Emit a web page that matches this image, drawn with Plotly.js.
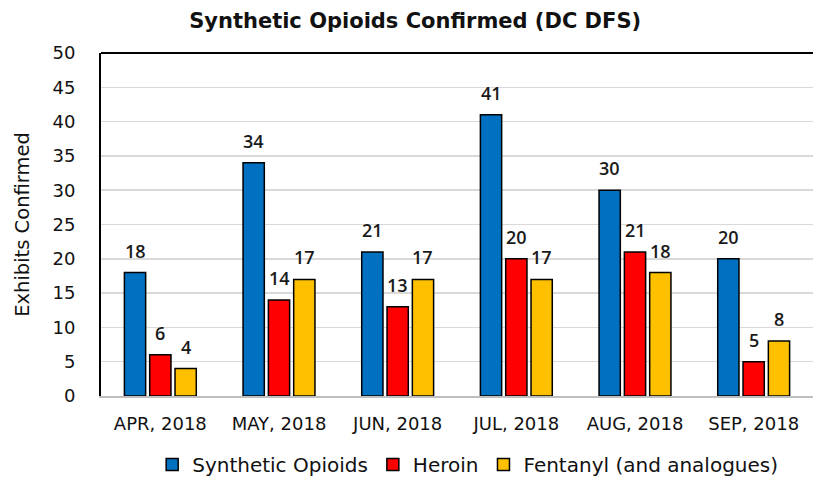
<!DOCTYPE html>
<html><head><meta charset="utf-8">
<script src="https://cdn.plot.ly/plotly-3.0.1.min.js"></script>
<style>html,body{margin:0;padding:0;background:#fff}#chart{width:814px;height:490px}</style>
</head><body><div id="chart"></div>
<script>
const categories = ["APR, 2018","MAY, 2018","JUN, 2018","JUL, 2018","AUG, 2018","SEP, 2018"];
const synthetic = [18,34,21,41,30,20];
const heroin = [6,14,13,20,21,5];
const fentanyl = [4,17,17,17,18,8];
const seriesNames = ["Synthetic Opioids","Heroin","Fentanyl (and analogues)"];
const seriesColors = ["#0070C0","#FF0000","#FFC000"];
const seriesValues = [synthetic, heroin, fentanyl];

const margin = {l:101, r:1, t:53, b:94, autoexpand: false};
const W = 814, bargap = 0.36, bargroupgap = 0.16;
const catW = (W - margin.l - margin.r) / categories.length;
const slot = catW * (1 - bargap) / 3;

const traces = seriesValues.map((vals, i) => ({
  type: 'bar', x: categories, y: vals, name: seriesNames[i],
  marker: {color: seriesColors[i], line: {color: '#000', width: 1.5}},
  hoverinfo: 'none'
}));

const annotations = [];
seriesValues.forEach((vals, i) => {
  vals.forEach((v, j) => {
    annotations.push({x: categories[j], y: v, xref: 'x', yref: 'y', text: String(v),
      showarrow: false, xshift: (i - 1) * slot, yshift: 22, yanchor: 'middle',
      font: {family: 'Open Sans', size: 18, weight: 600, color: '#1a1a1a'}});
  });
});

const layout = {
  width: 814, height: 490, margin: margin,
  paper_bgcolor: '#fff', plot_bgcolor: '#fff',
  title: {text: 'Synthetic Opioids Confirmed (DC DFS)', x: 0.51, xanchor: 'center', y: 0.958, yanchor: 'middle',
    font: {family: 'DejaVu Sans', size: 21, weight: 'bold', color: '#111'}},
  barmode: 'group', bargap: bargap, bargroupgap: bargroupgap,
  xaxis: {type: 'category', showgrid: false, showline: true, linecolor: '#bfbfbf', linewidth: 1.5,
    ticks: 'outside', ticklen: 11, tickcolor: 'rgba(0,0,0,0)',
    tickfont: {family: 'DejaVu Sans', size: 18, color: '#111'}, fixedrange: true},
  yaxis: {range: [0, 50], dtick: 5, showgrid: true, gridcolor: '#d9d9d9', gridwidth: 1.5,
    showline: true, linecolor: '#000', linewidth: 2, mirror: false, zeroline: false,
    ticks: 'outside', ticklen: 20, tickcolor: 'rgba(0,0,0,0)',
    tickfont: {family: 'DejaVu Sans', size: 18, color: '#111'},
    title: {text: 'Exhibits Confirmed', standoff: 18, font: {family: 'DejaVu Sans', size: 19.5, color: '#111'}}},
  shapes: [{type: 'line', xref: 'paper', yref: 'paper', x0: 0, x1: 1, y0: 1, y1: 1, line: {color: '#000', width: 2}}],
  legend: {orientation: 'h', x: 0.515, xanchor: 'center', xref: 'paper', y: -0.2, yanchor: 'middle',
    font: {family: 'DejaVu Sans', size: 20, color: '#111'}, itemwidth: 30, traceorder: 'normal'},
  annotations: annotations,
  showlegend: true
};
Plotly.newPlot('chart', traces, layout, {displayModeBar: false, staticPlot: true});
</script></body></html>
